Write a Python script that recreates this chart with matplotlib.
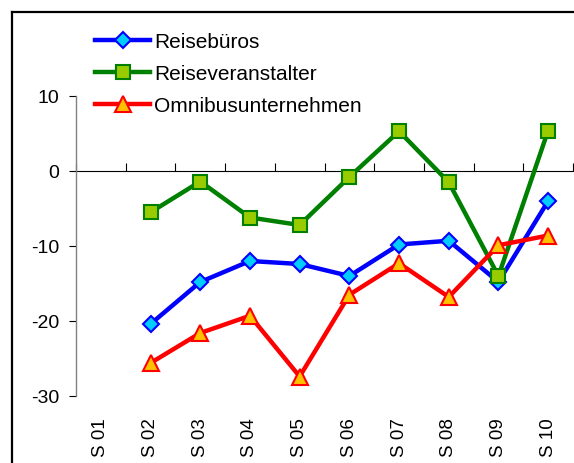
import matplotlib
matplotlib.use("Agg")
import matplotlib.pyplot as plt
from matplotlib.lines import Line2D

categories = ["S 01", "S 02", "S 03", "S 04", "S 05", "S 06", "S 07", "S 08", "S 09", "S 10"]
reisebueros = [None, -20.4, -14.8, -12.0, -12.4, -14.0, -9.8, -9.3, -14.8, -4.0]
reiseveranstalter = [None, -5.5, -1.4, -6.2, -7.2, -0.8, 5.3, -1.5, -14.0, 5.4]
omnibus = [None, -25.6, -21.6, -19.3, -27.4, -16.5, -12.3, -16.8, -9.9, -8.6]
yticks = [10, 0, -10, -20, -30]

plt.rcParams['font.family'] = ['Liberation Sans', 'DejaVu Sans']
plt.rcParams['axes.unicode_minus'] = False

W, H = 574, 464
fig = plt.figure(figsize=(W / 100, H / 100), dpi=100)
ax = fig.add_axes([76 / W, 1 - 397 / H, 497 / W, 300 / H])

x = list(range(len(categories)))
def clean(vals):
    return [float('nan') if v is None else v for v in vals]

ax.plot(x, clean(reisebueros), color='#0000FF', lw=3.2, marker='D', ms=8,
        mfc='#00CCFF', mec='#0000FF', mew=1.5, label='Reisebüros', zorder=3)
ax.plot(x, clean(reiseveranstalter), color='#008000', lw=3.2, marker='s', ms=10.5,
        mfc='#99CC00', mec='#008000', mew=1.5, label='Reiseveranstalter', zorder=3)
ax.plot(x, clean(omnibus), color='#FF0000', lw=3.2, marker='^', ms=11.5,
        mfc='#FFC000', mec='#FF0000', mew=1.5, label='Omnibusunternehmen', zorder=4)

ax.set_xlim(-0.5, len(categories) - 0.5)
ax.set_ylim(-30, 10)
ax.set_yticks(yticks)
ax.set_yticklabels([str(v) for v in yticks])
ax.tick_params(axis='y', length=5, width=0.8, pad=7, labelsize=14, color='black')

ax.set_xticks(x)
ax.set_xticklabels(categories, rotation=90, fontsize=13.5)
ax.tick_params(axis='x', length=0, pad=15)

for s in ['top', 'right', 'bottom']:
    ax.spines[s].set_visible(False)
ax.spines['left'].set_color('#808080')
ax.spines['left'].set_linewidth(1)

# x axis at zero with between-category tick marks
frac0 = (0 - (-30)) / (10 - (-30))
sec = ax.secondary_xaxis(frac0)
sec.set_xticks([i - 0.5 for i in range(len(categories) + 1)])
sec.set_xticklabels([])
sec.tick_params(axis='x', length=6, width=0.8, direction='out', color='black')
sec.spines['bottom'].set_color('#808080')
sec.spines['bottom'].set_linewidth(1.2)

ax.legend(loc='upper left', bbox_to_anchor=(95 / W, 1 - 33.5 / H),
          bbox_transform=fig.transFigure, frameon=False, fontsize=15,
          handlelength=2.65, handletextpad=0.2, labelspacing=0.62,
          borderpad=0, borderaxespad=0)

# outer frame (cropped chart border)
fig.add_artist(Line2D([12 / W, 12 / W], [0, 1 - 13 / H], transform=fig.transFigure,
                      color='black', lw=1.6))
fig.add_artist(Line2D([12 / W, 1], [1 - 13 / H, 1 - 13 / H], transform=fig.transFigure,
                      color='black', lw=1.6))

fig.savefig('out.png', dpi=100)
